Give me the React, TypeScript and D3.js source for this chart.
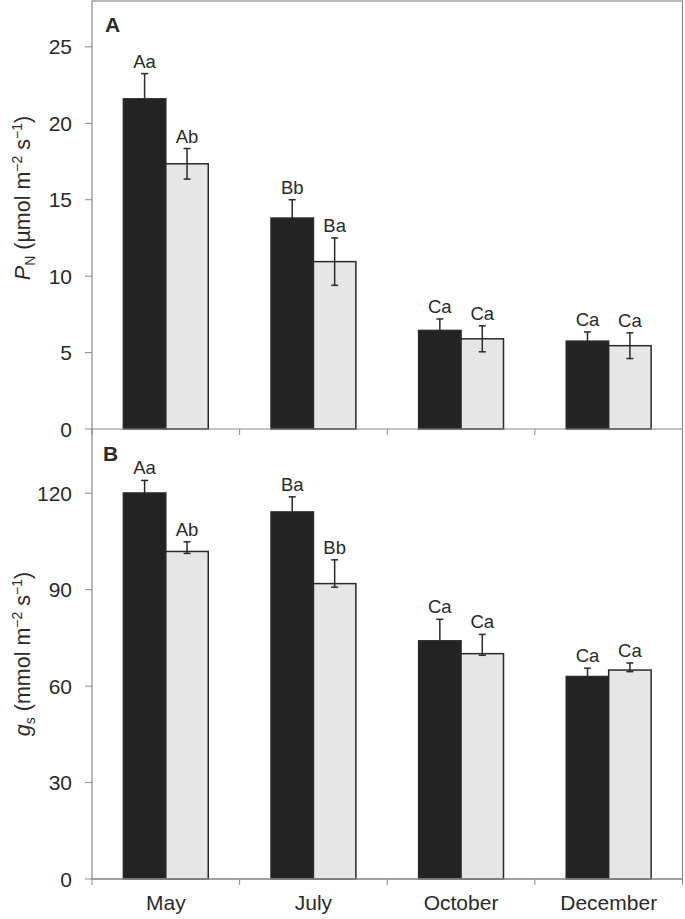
import { useEffect, useRef } from "react";
import * as d3 from "d3";

const MONTHS = ["May", "July", "October", "December"];

// Panel A: net photosynthetic rate
const PN_DARK = [21.6, 13.8, 6.45, 5.75];
const PN_DARK_ERR = [1.65, 1.2, 0.75, 0.6];
const PN_LIGHT = [17.35, 10.95, 5.9, 5.45];
const PN_LIGHT_ERR = [1.0, 1.55, 0.85, 0.84];
const PN_DARK_LBL = ["Aa", "Bb", "Ca", "Ca"];
const PN_LIGHT_LBL = ["Ab", "Ba", "Ca", "Ca"];
const PN_TICKS = [0, 5, 10, 15, 20, 25];

// Panel B: stomatal conductance
const GS_DARK = [120.1, 114.2, 74.1, 63.0];
const GS_DARK_ERR = [3.9, 4.7, 6.7, 2.6];
const GS_LIGHT = [101.9, 91.9, 70.1, 65.0];
const GS_LIGHT_ERR_UP = [3.0, 7.4, 6.0, 2.2];
const GS_LIGHT_ERR_DOWN = [0.6, 1.1, 0.5, 0.5];
const GS_DARK_LBL = ["Aa", "Ba", "Ca", "Ca"];
const GS_LIGHT_LBL = ["Ab", "Bb", "Ca", "Ca"];
const GS_TICKS = [0, 30, 60, 90, 120];

const FONT = "'Liberation Sans', Arial, sans-serif";

export default function App() {
  const svgRef = useRef<SVGSVGElement | null>(null);

  useEffect(() => {
    if (!svgRef.current) return;
    const W = 685, H = 919;
    const left = 92, right = 682.5;
    const aTop = 1, mid = 429, bBottom = 879;

    const svg = d3.select(svgRef.current);
    svg.selectAll("*").remove();
    svg.attr("width", W).attr("height", H).attr("viewBox", `0 0 ${W} ${H}`);

    const x = d3.scaleBand<string>().domain(MONTHS).range([left, right])
      .paddingInner(0.425).paddingOuter(0.2125);
    const xs = d3.scaleBand<string>().domain(["d", "l"]).range([0, x.bandwidth()]);
    const step = x.step();
    const bounds = d3.range(MONTHS.length + 1).map((i) => left + i * step);

    const yA = d3.scaleLinear().domain([0, 28]).range([mid, aTop]);
    const yB = d3.scaleLinear().domain([0, 140]).range([bBottom, mid]);

    const grey = "#8a8a8a";
    const ink = "#2a2a2a";

    function panel(
      y: d3.ScaleLinear<number, number>,
      ticks: number[],
      dark: number[], darkErr: number[],
      light: number[], lightUp: number[], lightDown: number[],
      darkLbl: string[], lightLbl: string[],
    ) {
      const g = svg.append("g");
      const y0 = y(0);
      const series = [
        { key: "d", vals: dark, up: darkErr, down: darkErr, lbl: darkLbl, fill: "#232323" },
        { key: "l", vals: light, up: lightUp, down: lightDown, lbl: lightLbl, fill: "#e6e6e6" },
      ];

      const errBars = (s: (typeof series)[0]) => {
        s.vals.forEach((v, i) => {
          const cx = x(MONTHS[i])! + xs(s.key)! + xs.bandwidth() / 2;
          const top = y(v + s.up[i]);
          const bot = y(v - s.down[i]);
          g.append("line").attr("x1", cx).attr("x2", cx).attr("y1", top).attr("y2", bot)
            .attr("stroke", ink).attr("stroke-width", 1.5);
          [top, bot].forEach((yy) => {
            g.append("line").attr("x1", cx - 3.5).attr("x2", cx + 3.5).attr("y1", yy).attr("y2", yy)
              .attr("stroke", ink).attr("stroke-width", 1.5);
          });
          g.append("text").attr("x", cx).attr("y", top - 6).attr("text-anchor", "middle")
            .attr("font-family", FONT).attr("font-size", 18.5).attr("fill", ink).text(s.lbl[i]);
        });
      };

      // dark bars hide the lower half of their own error bars
      errBars(series[0]);
      series.forEach((s) => {
        s.vals.forEach((v, i) => {
          const bx = x(MONTHS[i])! + xs(s.key)!;
          const bw = xs.bandwidth();
          g.append("rect").attr("x", bx).attr("y", y(v)).attr("width", bw).attr("height", y0 - y(v))
            .attr("fill", s.fill).attr("stroke", ink).attr("stroke-width", 1.5);
        });
      });
      errBars(series[1]);

      ticks.forEach((t) => {
        g.append("line").attr("x1", left - 7).attr("x2", left).attr("y1", y(t)).attr("y2", y(t))
          .attr("stroke", grey).attr("stroke-width", 1);
        g.append("text").attr("x", left - 20).attr("y", y(t)).attr("dy", "0.36em")
          .attr("text-anchor", "end").attr("font-family", FONT).attr("font-size", 21)
          .attr("fill", ink).text(String(t));
      });
      bounds.forEach((bx) => {
        g.append("line").attr("x1", bx).attr("x2", bx).attr("y1", y0).attr("y2", y0 + 6)
          .attr("stroke", grey).attr("stroke-width", 1);
      });
      g.append("line").attr("x1", left).attr("x2", right).attr("y1", y0).attr("y2", y0)
        .attr("stroke", grey).attr("stroke-width", 1.2);
    }

    panel(yA, PN_TICKS, PN_DARK, PN_DARK_ERR, PN_LIGHT, PN_LIGHT_ERR, PN_LIGHT_ERR, PN_DARK_LBL, PN_LIGHT_LBL);
    panel(yB, GS_TICKS, GS_DARK, GS_DARK_ERR, GS_LIGHT, GS_LIGHT_ERR_UP, GS_LIGHT_ERR_DOWN, GS_DARK_LBL, GS_LIGHT_LBL);

    svg.append("rect").attr("x", left).attr("y", aTop).attr("width", right - left).attr("height", bBottom - aTop)
      .attr("fill", "none").attr("stroke", grey).attr("stroke-width", 1.2);

    svg.append("text").attr("x", 105).attr("y", 32).attr("font-family", FONT).attr("font-weight", 700)
      .attr("font-size", 21).attr("fill", ink).text("A");
    svg.append("text").attr("x", 103).attr("y", 461).attr("font-family", FONT).attr("font-weight", 700)
      .attr("font-size", 21).attr("fill", ink).text("B");

    MONTHS.forEach((m) => {
      svg.append("text").attr("x", x(m)! + x.bandwidth() / 2).attr("y", 910).attr("text-anchor", "middle")
        .attr("font-family", FONT).attr("font-size", 21).attr("fill", ink).text(m);
    });

    function yTitle(cy: number, sym: string, sub: string, unit: string) {
      const t = svg.append("text").attr("transform", `translate(30,${cy}) rotate(-90)`)
        .attr("text-anchor", "middle").attr("font-family", FONT).attr("font-size", 21.5).attr("fill", ink);
      t.append("tspan").attr("font-style", "italic").text(sym);
      t.append("tspan").attr("font-size", 14).attr("dy", 5).text(sub);
      t.append("tspan").attr("dy", -5).text(` (${unit} m`);
      t.append("tspan").attr("font-size", 14).attr("dy", -8).text("−2");
      t.append("tspan").attr("dy", 8).text(" s");
      t.append("tspan").attr("font-size", 14).attr("dy", -8).text("−1");
      t.append("tspan").attr("dy", 8).text(")");
    }
    yTitle(198, "P", "N", "µmol");
    yTitle((yB(0) + yB(140)) / 2, "g", "s", "mmol");
  }, []);

  return <svg ref={svgRef} style={{ position: "absolute", left: 0, top: 0, display: "block", background: "#fff" }} />;
}
